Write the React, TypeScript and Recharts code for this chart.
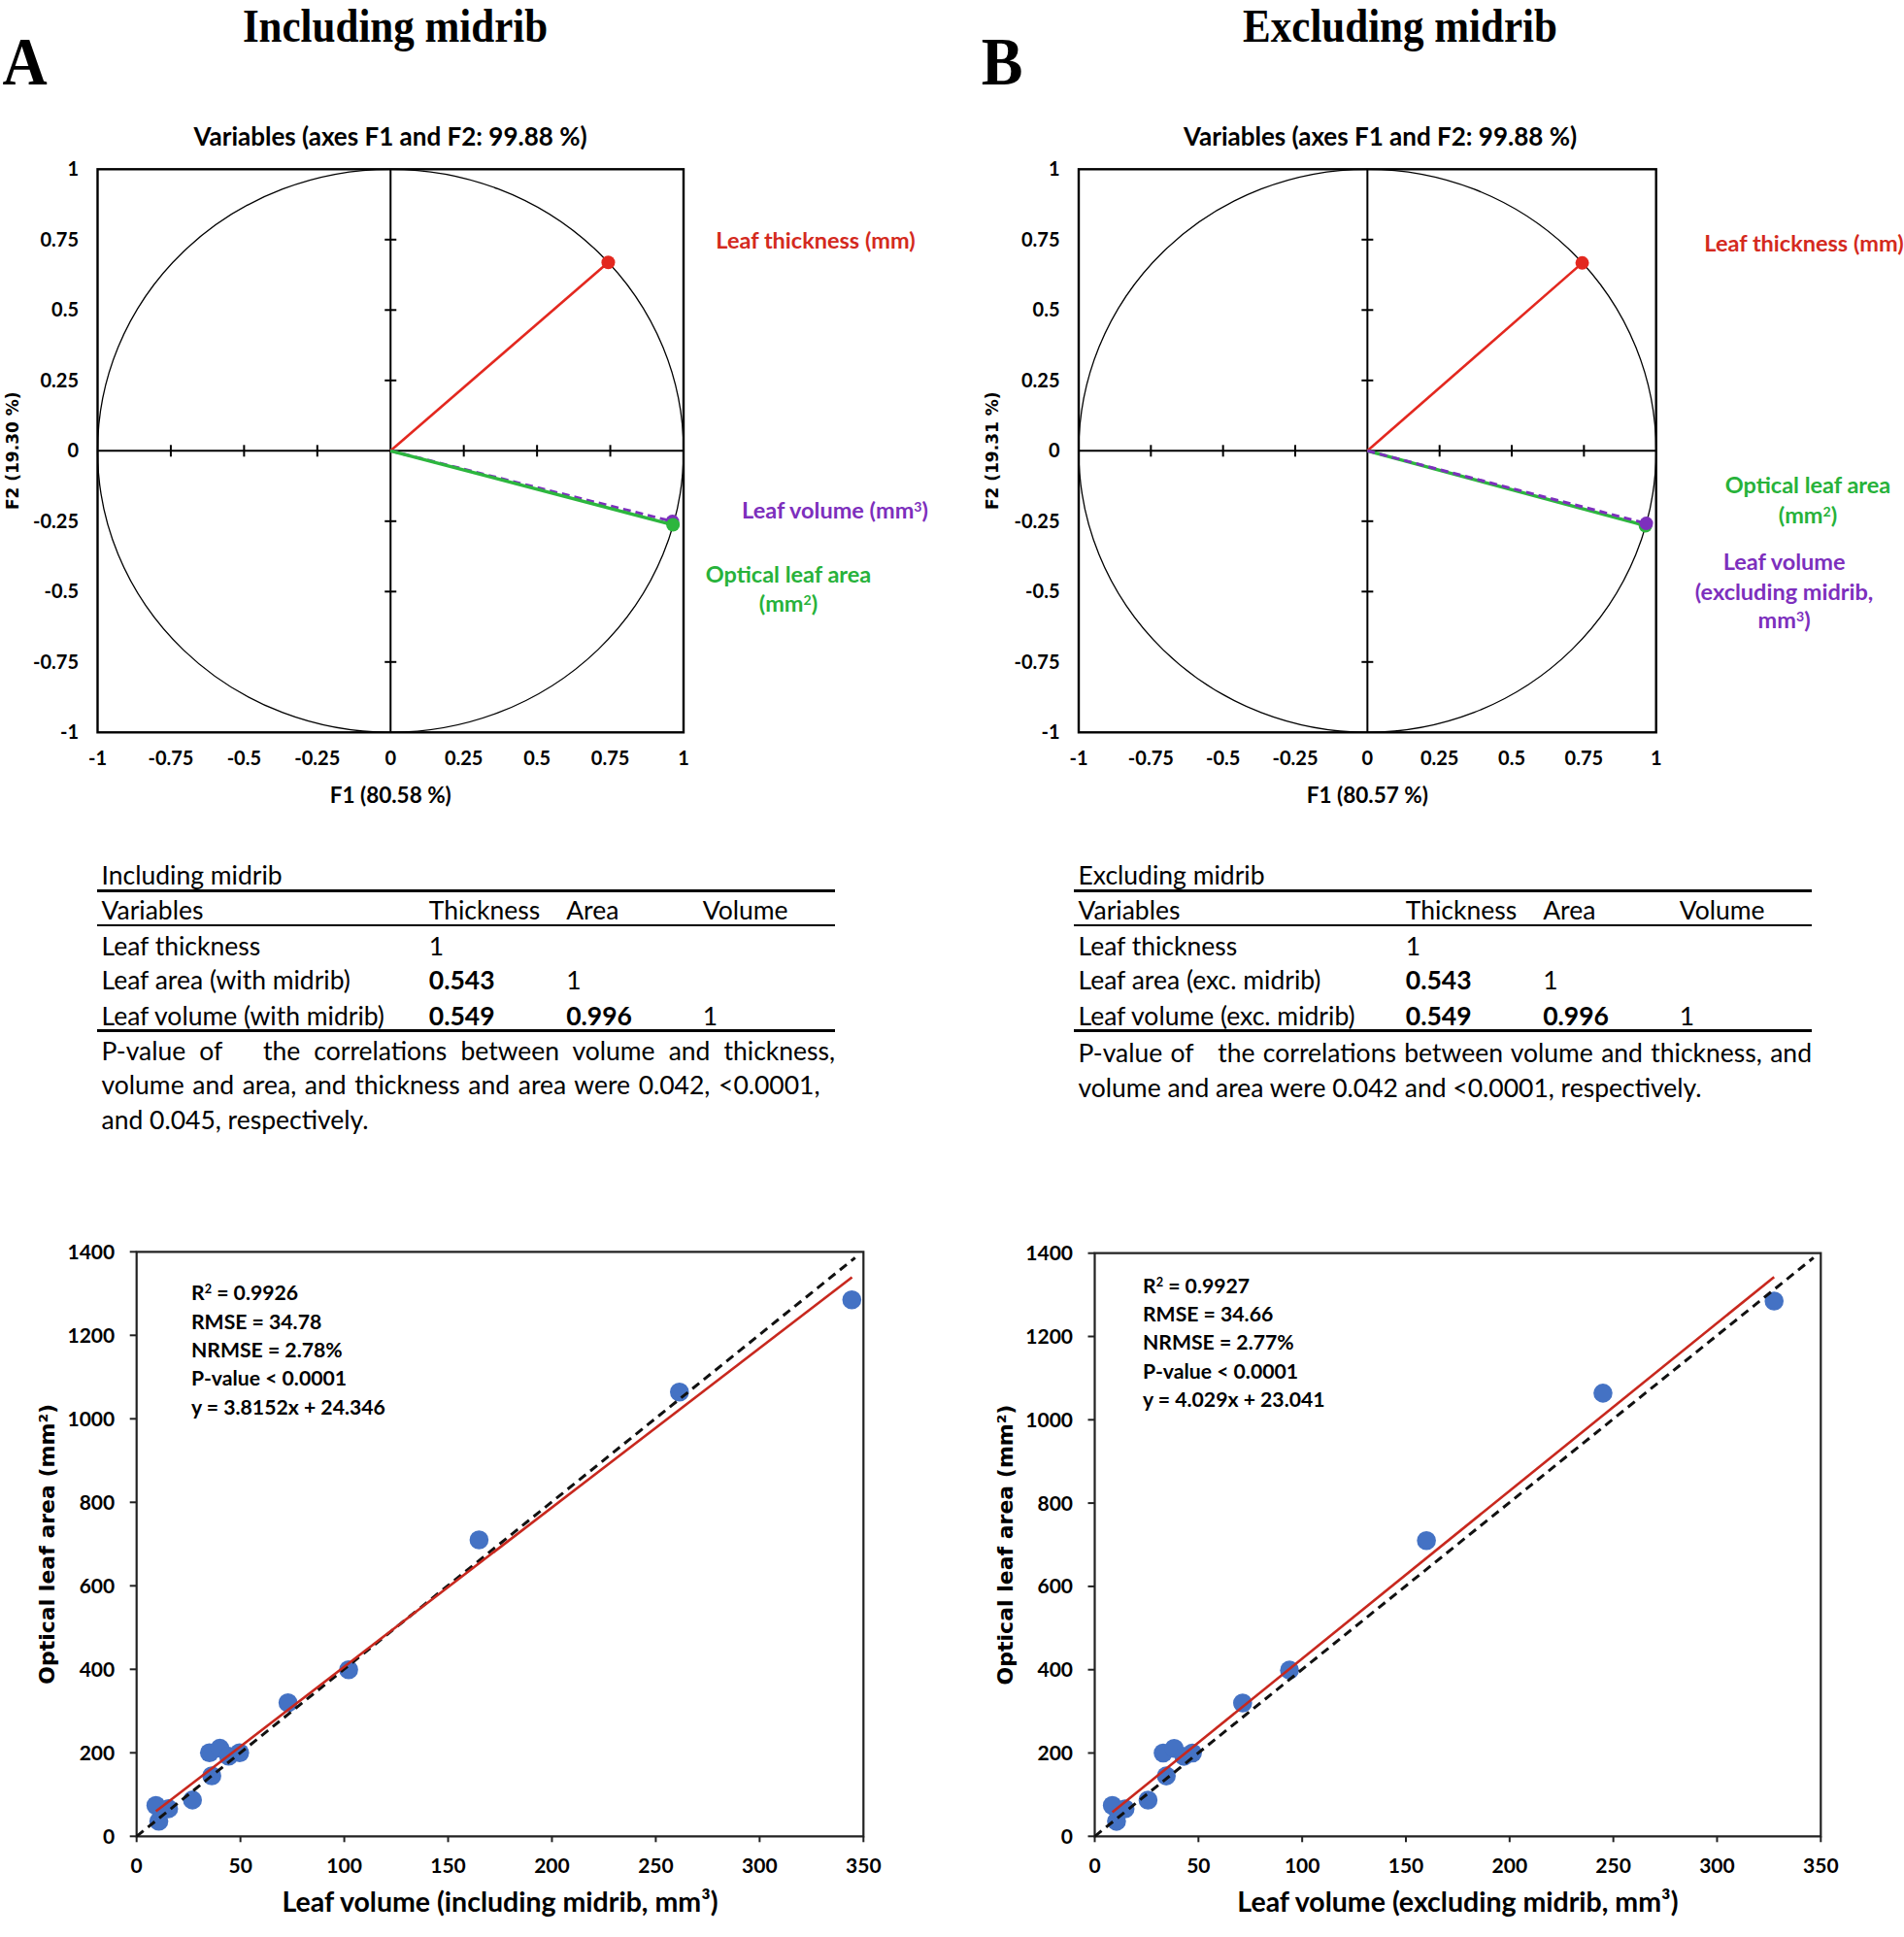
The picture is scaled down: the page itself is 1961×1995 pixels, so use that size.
import React from 'react';
import { ComposedChart, Scatter, XAxis, YAxis, ReferenceLine, ReferenceArea } from 'recharts';

// correlation circle ticks
const pcaTicks = [-1, -0.75, -0.5, -0.25, 0, 0.25, 0.5, 0.75, 1];
const pcaCrossTicks = [-0.75, -0.5, -0.25, 0.25, 0.5, 0.75];

// loadings on F1 / F2 (origin first)
const thicknessIncl = [{ x: 0, y: 0 }, { x: 0.743, y: 0.669 }];
const areaIncl = [{ x: 0, y: 0 }, { x: 0.964, y: -0.263 }];
const volumeIncl = [{ x: 0, y: 0 }, { x: 0.962, y: -0.251 }];
const thicknessExcl = [{ x: 0, y: 0 }, { x: 0.744, y: 0.667 }];
const areaExcl = [{ x: 0, y: 0 }, { x: 0.963, y: -0.266 }];
const volumeExcl = [{ x: 0, y: 0 }, { x: 0.966, y: -0.258 }];

// leaf measurements
const volumeInclMm3 = [9.3, 15.4, 10.7, 26.9, 35.1, 40.1, 44.3, 49.6, 36.2, 72.9, 102.1, 164.9, 261.4, 344.4];
const volumeExclMm3 = [8.5, 14.6, 10.5, 25.7, 33.0, 38.3, 43.0, 47.1, 34.5, 71.3, 93.9, 159.9, 245.0, 327.5];
const opticalAreaMm2 = [74, 66, 36, 87, 200, 211, 192, 200, 145, 320, 399, 710, 1064, 1285];
const volumeTicks = [0, 50, 100, 150, 200, 250, 300, 350];
const areaTicks = [0, 200, 400, 600, 800, 1000, 1200, 1400];

// trend line ends and dashed reference line ends
const fitIncl = [{ x: 9.3, y: 60 }, { x: 344.5, y: 1339 }];
const fitExcl = [{ x: 8.5, y: 58 }, { x: 327.5, y: 1343 }];
const refIncl = [{ x: 0, y: 0 }, { x: 346, y: 1386 }];
const refExcl = [{ x: 0, y: 0 }, { x: 346.5, y: 1389 }];

const statsIncl = ['R² = 0.9926', 'RMSE = 34.78', 'NRMSE = 2.78%', 'P-value < 0.0001', 'y = 3.8152x + 24.346'];
const statsExcl = ['R² = 0.9927', 'RMSE = 34.66', 'NRMSE = 2.77%', 'P-value < 0.0001', 'y = 4.029x + 23.041'];

// correlation tables
const tableCols = ['Variables', 'Thickness', 'Area', 'Volume'];
const rowsIncl = [
  ['Leaf thickness', '1', '', ''],
  ['Leaf area (with midrib)', '0.543', '1', ''],
  ['Leaf volume (with midrib)', '0.549', '0.996', '1'],
];
const rowsExcl = [
  ['Leaf thickness', '1', '', ''],
  ['Leaf area (exc. midrib)', '0.543', '1', ''],
  ['Leaf volume (exc. midrib)', '0.549', '0.996', '1'],
];
const noteIncl = [
  'P-value of \u00a0 the correlations between volume and thickness,',
  'volume and area, and thickness and area were 0.042, <0.0001,',
  'and 0.045, respectively.',
];
const noteExcl = [
  'P-value of \u00a0 the correlations between volume and thickness, and',
  'volume and area were 0.042 and <0.0001, respectively.',
];

const RED = '#e3281f';
const GREEN = '#2cb63e';
const PURPLE = '#7d2fbd';
const BLUE = '#4472c4';

type Pt = { x: number; y: number };
type Box = { l: number; t: number; r: number; b: number };

const withSup = (s: string) =>
  s.split(/([²³])/).map((part, i) =>
    part === '²' || part === '³' ? (
      <sup key={i} style={{ fontSize: '0.6em', verticalAlign: '0.55em', lineHeight: 0 }}>
        {part === '²' ? '2' : '3'}
      </sup>
    ) : (
      <React.Fragment key={i}>{part}</React.Fragment>
    ),
  );

const Txt: React.FC<{ x: number; y: number; anchor?: 'start' | 'middle' | 'end'; style?: React.CSSProperties; children: React.ReactNode }> = ({
  x, y, anchor = 'middle', style, children,
}) => {
  const tx = anchor === 'middle' ? '-50%' : anchor === 'end' ? '-100%' : '0';
  return (
    <div style={{ position: 'absolute', left: x, top: y, transform: `translate(${tx}, -50%)`, whiteSpace: 'nowrap', lineHeight: 1, ...style }}>
      {children}
    </div>
  );
};

const noDot = () => <g />;
const dotOf = (color: string, r: number) => (p: any) => <circle cx={p.cx} cy={p.cy} r={r} fill={color} />;

const CircleFrame = (p: any) => (
  <g>
    <ellipse cx={p.x + p.width / 2} cy={p.y + p.height / 2} rx={p.width / 2} ry={p.height / 2} fill="none" stroke="#000" strokeWidth={1.3} />
    <rect x={p.x} y={p.y} width={p.width} height={p.height} fill="none" stroke="#000" strokeWidth={2.4} />
  </g>
);

interface Vector { data: Pt[]; color: string; width: number; dash?: string }

const pcaTick = { fill: '#000', fontSize: 20, fontWeight: 700, fontFamily: 'Lato' };

const PcaPanel: React.FC<{
  left: number; top: number; width: number; height: number; plot: Box;
  vectors: Vector[]; xTitle: string; yTitle: string; yTitleX: number;
}> = ({ left, top, width, height, plot, vectors, xTitle, yTitle, yTitleX }) => {
  const xAxisH = 100;
  const margin = { top: plot.t - top, right: left + width - plot.r, bottom: top + height - plot.b - xAxisH, left: 0 };
  const hx = (6 * 2) / (plot.r - plot.l);
  const hy = (6 * 2) / (plot.b - plot.t);
  return (
    <div style={{ position: 'absolute', left, top }}>
      <ComposedChart width={width} height={height} margin={margin}>
        <XAxis
          type="number" dataKey="x" domain={[-1, 1]} ticks={pcaTicks} interval={0}
          axisLine={false} tickLine={false} tickSize={6} tickMargin={13.5} tick={pcaTick} height={xAxisH}
          label={{ value: xTitle, position: 'insideTop', offset: 57, fill: '#000', fontSize: 22.5, fontWeight: 700, fontFamily: 'Lato' }}
        />
        <YAxis
          type="number" dataKey="y" domain={[-1, 1]} ticks={pcaTicks} interval={0}
          axisLine={false} tickLine={false} tickSize={6} tickMargin={13.5} tick={pcaTick} width={plot.l - left}
          label={{ value: yTitle, angle: -90, position: 'insideLeft', offset: yTitleX, fill: '#000', fontSize: 17, fontWeight: 700, fontFamily: 'DejaVu Sans', style: { textAnchor: 'middle' } }}
        />
        <ReferenceArea x1={-1} x2={1} y1={-1} y2={1} shape={CircleFrame} />
        <ReferenceLine x={0} stroke="#000" strokeWidth={2} />
        <ReferenceLine y={0} stroke="#000" strokeWidth={2} />
        {pcaCrossTicks.map((t) => (
          <ReferenceLine key={'h' + t} segment={[{ x: t, y: -hy }, { x: t, y: hy }]} stroke="#000" strokeWidth={2} />
        ))}
        {pcaCrossTicks.map((t) => (
          <ReferenceLine key={'v' + t} segment={[{ x: -hx, y: t }, { x: hx, y: t }]} stroke="#000" strokeWidth={2} />
        ))}
        {vectors.flatMap((v, i) => [
          <Scatter
            key={'line' + i} data={v.data} shape={noDot} isAnimationActive={false}
            line={{ stroke: v.color, strokeWidth: v.width, strokeDasharray: v.dash }}
          />,
          <Scatter key={'dot' + i} data={[v.data[1]]} shape={dotOf(v.color, 7)} isAnimationActive={false} />,
        ])}
      </ComposedChart>
    </div>
  );
};

const fitTick = { fill: '#000', fontSize: 21, fontWeight: 700, fontFamily: 'Lato' };

const FitPanel: React.FC<{
  left: number; top: number; width: number; height: number; plot: Box;
  volumes: number[]; fit: Pt[]; ref1: Pt[]; xTitle: string; yTitleX: number;
}> = ({ left, top, width, height, plot, volumes, fit, ref1, xTitle, yTitleX }) => {
  const xAxisH = 90;
  const margin = { top: plot.t - top, right: left + width - plot.r, bottom: top + height - plot.b - xAxisH, left: 0 };
  const points = volumes.map((v, i) => ({ x: v, y: opticalAreaMm2[i] }));
  return (
    <div style={{ position: 'absolute', left, top }}>
      <ComposedChart width={width} height={height} margin={margin}>
        <XAxis
          type="number" dataKey="x" domain={[0, 350]} ticks={volumeTicks} interval={0}
          axisLine={false} tickLine={{ stroke: '#222', strokeWidth: 2 }} tickSize={6} tickMargin={16.5} tick={fitTick} height={xAxisH}
          label={{ value: xTitle, position: 'insideTop', offset: 57, fill: '#000', fontSize: 28.5, fontWeight: 700, fontFamily: 'Lato' }}
        />
        <YAxis
          type="number" dataKey="y" domain={[0, 1400]} ticks={areaTicks} interval={0}
          axisLine={false} tickLine={{ stroke: '#222', strokeWidth: 2 }} tickSize={7} tickMargin={15.5} tick={fitTick} width={plot.l - left}
          label={{ value: 'Optical leaf area (mm²)', angle: -90, position: 'insideLeft', offset: yTitleX, fill: '#000', fontSize: 22, fontWeight: 700, fontFamily: 'DejaVu Sans', style: { textAnchor: 'middle' } }}
        />
        <ReferenceArea x1={0} x2={350} y1={0} y2={1400} fill="none" fillOpacity={0} stroke="#222" strokeWidth={2.2} />
        <Scatter data={points} shape={dotOf(BLUE, 9.8)} isAnimationActive={false} />
        <Scatter data={ref1} shape={noDot} line={{ stroke: '#111', strokeWidth: 3, strokeDasharray: '9 6' }} isAnimationActive={false} />
        <Scatter data={fit} shape={noDot} line={{ stroke: '#c8281e', strokeWidth: 2.6 }} isAnimationActive={false} />
      </ComposedChart>
    </div>
  );
};

const tableFont: React.CSSProperties = { fontFamily: 'Lato', fontSize: 26.5 };
const colOffsets = [4.5, 341.8, 483.2, 623.8];
const rowYs = [973.5, 1009.2, 1046.1];

const CorrTable: React.FC<{ left: number; caption: string; rows: string[][]; note: string[]; noteYs: number[]; noteWidths: (number | null)[] }> = ({
  left, caption, rows, note, noteYs, noteWidths,
}) => {
  const rule = (y: number) => (
    <div style={{ position: 'absolute', left, top: y - 1.25, width: 760, height: 2.5, background: '#000' }} />
  );
  return (
    <>
      <Txt x={left + 4.5} y={901} anchor="start" style={tableFont}>{caption}</Txt>
      {rule(917.6)}
      {tableCols.map((c, i) => (
        <Txt key={c} x={left + colOffsets[i]} y={936.7} anchor="start" style={tableFont}>{c}</Txt>
      ))}
      {rule(953.2)}
      {rows.map((row, r) =>
        row.map((cell, i) => (
          <Txt key={r + '-' + i} x={left + colOffsets[i]} y={rowYs[r]} anchor="start"
            style={{ ...tableFont, fontWeight: i > 0 && cell !== '1' ? 700 : 400 }}>
            {cell}
          </Txt>
        )),
      )}
      {rule(1061.3)}
      {note.map((line, i) => {
        const w = noteWidths[i];
        return (
          <div key={i} style={{
            position: 'absolute', left: left + 4.5, top: noteYs[i] - 15, height: 30, lineHeight: '30px', ...tableFont,
            width: w ?? undefined, whiteSpace: w ? 'normal' : 'nowrap',
            textAlign: w ? 'justify' : 'left', textAlignLast: w ? 'justify' : 'left',
          }}>
            {line}
          </div>
        );
      })}
    </>
  );
};

const labelFont: React.CSSProperties = { fontFamily: 'Lato', fontWeight: 700, fontSize: 23.5 };
const statFont: React.CSSProperties = { fontFamily: 'Lato', fontWeight: 700, fontSize: 21.2 };
const headFont: React.CSSProperties = { fontFamily: '"Liberation Serif"', fontWeight: 700, fontSize: 43 };
const letterFont: React.CSSProperties = { fontFamily: '"Liberation Serif"', fontWeight: 700, fontSize: 64 };
const subFont: React.CSSProperties = { fontFamily: 'Lato', fontWeight: 700, fontSize: 26 };

export default function App() {
  return (
    <div style={{ position: 'absolute', left: 0, top: 0, width: 1961, height: 1995, background: '#fff', color: '#000', overflow: 'hidden' }}>
      <Txt x={25.5} y={64} style={{ ...letterFont, transform: 'translate(-50%, -50%) scaleY(1.08)' }}>A</Txt>
      <Txt x={407} y={26} style={{ ...headFont, transform: 'translate(-50%, -50%) scaleY(1.15)' }}>Including midrib</Txt>
      <Txt x={1032} y={64} style={{ ...letterFont, transform: 'translate(-50%, -50%) scaleY(1.08)' }}>B</Txt>
      <Txt x={1442} y={26} style={{ ...headFont, transform: 'translate(-50%, -50%) scaleY(1.15)' }}>Excluding midrib</Txt>

      <Txt x={402} y={140} style={subFont}>Variables (axes F1 and F2: 99.88 %)</Txt>
      <Txt x={1421.5} y={140} style={subFont}>Variables (axes F1 and F2: 99.88 %)</Txt>

      <PcaPanel
        left={0} top={150} width={720} height={720} plot={{ l: 100.5, t: 174.3, r: 704, b: 754.3 }}
        vectors={[
          { data: thicknessIncl, color: RED, width: 2.6 },
          { data: volumeIncl, color: PURPLE, width: 3, dash: '8 5' },
          { data: areaIncl, color: GREEN, width: 3.4 },
        ]}
        xTitle="F1 (80.58 %)" yTitle="F2 (19.30 %)" yTitleX={12.7}
      />
      <PcaPanel
        left={980} top={150} width={740} height={720} plot={{ l: 1111, t: 174.3, r: 1705.7, b: 754.3 }}
        vectors={[
          { data: thicknessExcl, color: RED, width: 2.6 },
          { data: areaExcl, color: GREEN, width: 3.4 },
          { data: volumeExcl, color: PURPLE, width: 3, dash: '8 5' },
        ]}
        xTitle="F1 (80.57 %)" yTitle="F2 (19.31 %)" yTitleX={42}
      />

      <Txt x={840} y={248} style={{ ...labelFont, color: '#d42a1e' }}>Leaf thickness (mm)</Txt>
      <Txt x={860} y={525.6} style={{ ...labelFont, color: PURPLE }}>{withSup('Leaf volume (mm³)')}</Txt>
      <Txt x={812} y={592} style={{ ...labelFont, color: '#27b23a' }}>Optical leaf area</Txt>
      <Txt x={812} y={622} style={{ ...labelFont, color: '#27b23a' }}>{withSup('(mm²)')}</Txt>

      <Txt x={1858} y={250.7} style={{ ...labelFont, color: '#d42a1e' }}>Leaf thickness (mm)</Txt>
      <Txt x={1862} y={500} style={{ ...labelFont, color: '#27b23a' }}>Optical leaf area</Txt>
      <Txt x={1862} y={530.7} style={{ ...labelFont, color: '#27b23a' }}>{withSup('(mm²)')}</Txt>
      <Txt x={1837.6} y={579} style={{ ...labelFont, color: PURPLE }}>Leaf volume</Txt>
      <Txt x={1837.6} y={609.6} style={{ ...labelFont, color: PURPLE }}>(excluding midrib,</Txt>
      <Txt x={1837.6} y={638.8} style={{ ...labelFont, color: PURPLE }}>{withSup('mm³)')}</Txt>

      <CorrTable left={100} caption="Including midrib" rows={rowsIncl} note={noteIncl}
        noteYs={[1081.7, 1117.4, 1153]} noteWidths={[755.5, 740, null]} />
      <CorrTable left={1106} caption="Excluding midrib" rows={rowsExcl} note={noteExcl}
        noteYs={[1084.3, 1119.9]} noteWidths={[755.5, null]} />

      <FitPanel
        left={0} top={1270} width={960} height={725} plot={{ l: 140.7, t: 1289.3, r: 889.3, b: 1891.3 }}
        volumes={volumeInclMm3} fit={fitIncl} ref1={refIncl}
        xTitle="Leaf volume (including midrib, mm³)" yTitleX={48}
      />
      <FitPanel
        left={980} top={1270} width={960} height={725} plot={{ l: 1127.5, t: 1290.7, r: 1875.3, b: 1891.3 }}
        volumes={volumeExclMm3} fit={fitExcl} ref1={refExcl}
        xTitle="Leaf volume (excluding midrib, mm³)" yTitleX={55}
      />

      {statsIncl.map((s, i) => (
        <Txt key={'si' + i} x={197} y={1332.4 + i * 29.3} anchor="start" style={statFont}>{withSup(s)}</Txt>
      ))}
      {statsExcl.map((s, i) => (
        <Txt key={'se' + i} x={1177} y={1324.8 + i * 29.3} anchor="start" style={statFont}>{withSup(s)}</Txt>
      ))}
    </div>
  );
}
